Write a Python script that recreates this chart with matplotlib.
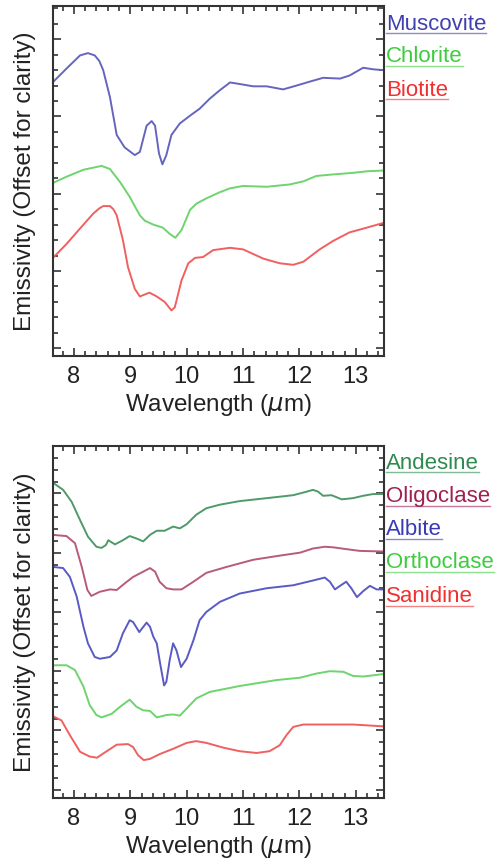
import numpy as np
import matplotlib
matplotlib.use('Agg')
import matplotlib.pyplot as plt
from matplotlib.lines import Line2D
from matplotlib.ticker import MultipleLocator

plt.rcParams['font.family'] = ['Liberation Sans', 'DejaVu Sans']
plt.rcParams['mathtext.fontset'] = 'dejavusans'

# ---- top panel: micas ----
musc_wl = [7.63, 7.87, 8.11, 8.25, 8.37, 8.45, 8.52, 8.64, 8.76, 8.90, 9.08, 9.17, 9.29, 9.38, 9.44, 9.51,
           9.57, 9.64, 9.73, 9.88, 10.06, 10.23, 10.41, 10.59, 10.77, 10.94, 11.18, 11.42, 11.71,
           11.95, 12.18, 12.42, 12.72, 12.89, 13.13, 13.31, 13.48]
musc_em = [3.445, 3.62, 3.79, 3.82, 3.79, 3.72, 3.60, 3.25, 2.76, 2.60, 2.50, 2.54, 2.88, 2.94, 2.88, 2.52,
           2.38, 2.50, 2.76, 2.91, 3.01, 3.10, 3.23, 3.34, 3.44, 3.42, 3.39, 3.39, 3.35,
           3.40, 3.45, 3.50, 3.49, 3.53, 3.63, 3.61, 3.60]

chl_wl = [7.63, 7.87, 8.17, 8.49, 8.64, 8.82, 8.99, 9.17, 9.26, 9.41, 9.58, 9.70, 9.80, 9.91, 10.06,
          10.17, 10.35, 10.59, 10.77, 11.00, 11.42, 11.83, 12.07, 12.30, 12.60, 12.95, 13.19, 13.48]
chl_em = [2.14, 2.22, 2.31, 2.36, 2.32, 2.15, 1.96, 1.72, 1.65, 1.60, 1.56, 1.48, 1.43, 1.53, 1.79,
          1.87, 1.94, 2.02, 2.07, 2.10, 2.09, 2.12, 2.16, 2.23, 2.25, 2.27, 2.29, 2.30]

bio_wl = [7.63, 7.87, 8.11, 8.34, 8.45, 8.52, 8.64, 8.70, 8.76, 8.87, 8.96, 9.08, 9.17, 9.34, 9.47, 9.61, 9.73,
          9.79, 9.91, 10.03, 10.15, 10.29, 10.47, 10.77, 11.00, 11.36, 11.65, 11.89, 12.07, 12.36,
          12.60, 12.89, 13.19, 13.48]
bio_em = [1.17, 1.35, 1.55, 1.74, 1.81, 1.84, 1.84, 1.80, 1.72, 1.40, 1.05, 0.77, 0.67, 0.72, 0.67, 0.60, 0.49,
          0.53, 0.88, 1.10, 1.17, 1.18, 1.27, 1.30, 1.28, 1.16, 1.10, 1.08, 1.12, 1.28,
          1.39, 1.50, 1.56, 1.62]

# ---- bottom panel: feldspars ----
and_wl = [7.66, 7.81, 7.96, 8.11, 8.25, 8.40, 8.49, 8.57, 8.61, 8.73, 8.87, 8.99, 9.11, 9.23, 9.35,
          9.47, 9.61, 9.76, 9.88, 10.00, 10.17, 10.35, 10.59, 10.94, 11.42, 11.89, 12.13, 12.24,
          12.33, 12.42, 12.57, 12.75, 12.95, 13.13, 13.31, 13.48]
and_em = [5.16, 5.06, 4.86, 4.55, 4.27, 4.10, 4.08, 4.13, 4.21, 4.14, 4.21, 4.28, 4.24, 4.19, 4.30,
          4.37, 4.37, 4.44, 4.41, 4.48, 4.64, 4.75, 4.81, 4.87, 4.92, 4.97, 5.03, 5.06,
          5.03, 4.96, 4.97, 4.90, 4.92, 4.96, 4.99, 4.99]

oli_wl = [7.63, 7.87, 8.02, 8.14, 8.24, 8.31, 8.46, 8.64, 8.76, 8.90, 9.05, 9.23, 9.35, 9.44, 9.52,
          9.64, 9.76, 9.91, 10.12, 10.35, 10.71, 11.18, 11.65, 12.01, 12.24, 12.45, 12.60, 12.83,
          13.07, 13.48]
oli_em = [4.30, 4.28, 4.16, 3.76, 3.37, 3.27, 3.34, 3.38, 3.37, 3.48, 3.59, 3.68, 3.74, 3.68, 3.51,
          3.40, 3.38, 3.38, 3.51, 3.66, 3.76, 3.88, 3.95, 4.00, 4.07, 4.10, 4.09, 4.06,
          4.03, 4.02]

alb_wl = [7.63, 7.81, 7.93, 8.05, 8.17, 8.25, 8.37, 8.46, 8.64, 8.76, 8.87, 8.99, 9.05, 9.16, 9.29,
          9.35, 9.41, 9.47, 9.53, 9.60, 9.64, 9.70, 9.76, 9.82, 9.90, 10.00, 10.12, 10.23, 10.35,
          10.59, 10.94, 11.42, 11.89, 12.24, 12.45, 12.54, 12.63, 12.72, 12.83, 12.92, 13.02,
          13.13, 13.25, 13.37, 13.48]
alb_em = [3.76, 3.74, 3.59, 3.26, 2.75, 2.47, 2.24, 2.21, 2.24, 2.35, 2.64, 2.86, 2.83, 2.66, 2.82,
          2.75, 2.58, 2.47, 2.13, 1.76, 1.82, 2.19, 2.47, 2.35, 2.07, 2.21, 2.52, 2.86, 3.00,
          3.17, 3.31, 3.40, 3.45, 3.53, 3.58, 3.51, 3.38, 3.44, 3.51, 3.40, 3.25,
          3.35, 3.44, 3.38, 3.38]

ort_wl = [7.63, 7.87, 8.02, 8.17, 8.28, 8.40, 8.49, 8.67, 8.82, 8.99, 9.11, 9.23, 9.35, 9.47, 9.64,
          9.76, 9.88, 10.00, 10.17, 10.41, 10.94, 11.59, 12.01, 12.30, 12.54, 12.78, 12.95, 13.13,
          13.48]
ort_em = [2.10, 2.10, 2.02, 1.74, 1.43, 1.26, 1.22, 1.28, 1.40, 1.52, 1.40, 1.34, 1.33, 1.22, 1.26,
          1.27, 1.25, 1.37, 1.54, 1.65, 1.75, 1.85, 1.89, 1.96, 2.00, 1.99, 1.92, 1.91,
          1.95]

san_wl = [7.63, 7.78, 7.93, 8.11, 8.28, 8.41, 8.52, 8.76, 8.96, 9.05, 9.14, 9.24, 9.35, 9.52, 9.76,
          10.00, 10.17, 10.35, 10.65, 10.94, 11.24, 11.47, 11.65, 11.77, 11.89, 12.07, 12.60,
          12.95, 13.48]
san_em = [1.24, 1.17, 0.92, 0.64, 0.56, 0.54, 0.61, 0.76, 0.77, 0.72, 0.58, 0.50, 0.52, 0.60, 0.69,
          0.79, 0.82, 0.79, 0.71, 0.65, 0.62, 0.65, 0.75, 0.92, 1.06, 1.10, 1.10,
          1.10, 1.07]

top_names = ['Muscovite', 'Chlorite', 'Biotite']
top_data = [(musc_wl, musc_em), (chl_wl, chl_em), (bio_wl, bio_em)]
top_line_colors = ['#6565c0', '#6ed46e', '#f06060']
top_text_colors = ['#4040b0', '#3ecc3e', '#f03030']

bot_names = ['Andesine', 'Oligoclase', 'Albite', 'Orthoclase', 'Sanidine']
bot_data = [(and_wl, and_em), (oli_wl, oli_em), (alb_wl, alb_em), (ort_wl, ort_em), (san_wl, san_em)]
bot_line_colors = ['#4e9a6a', '#b85a7c', '#5a5ac4', '#6ed46e', '#f06060']
bot_text_colors = ['#2e8a50', '#a02050', '#3838b8', '#3ecc3e', '#f03030']

fig = plt.figure(figsize=(4.98, 8.63), dpi=100)
ax1 = fig.add_axes([0.1064, 0.5875, 0.6647, 0.4056])
ax2 = fig.add_axes([0.1064, 0.0753, 0.6647, 0.4079])


def style_axes(ax, ylim):
    ax.set_xlim(7.63, 13.5)
    ax.set_ylim(*ylim)
    ax.xaxis.set_major_locator(MultipleLocator(1))
    ax.xaxis.set_minor_locator(MultipleLocator(0.2))
    ax.yaxis.set_major_locator(MultipleLocator(1))
    ax.yaxis.set_minor_locator(MultipleLocator(0.2))
    ax.tick_params(which='both', direction='in', top=True, right=True, color='#333333', width=1.2)
    ax.tick_params(which='major', length=6, labelsize=17, pad=7)
    ax.tick_params(which='minor', length=3.5)
    ax.set_yticklabels([])
    for s in ax.spines.values():
        s.set_linewidth(1.5)
        s.set_color('#333333')
    ax.set_xlabel('Wavelength ($\\mu$m)', fontsize=17.5, labelpad=3, color='#222222')
    ax.set_ylabel('Emissivity (Offset for clarity)', fontsize=17.5, labelpad=5, color='#222222')


style_axes(ax1, (-0.1, 4.43))
style_axes(ax2, (-0.14, 5.80))
for ax in (ax1, ax2):
    for lbl in ax.get_xticklabels():
        lbl.set_color('#222222')

for (wl, em), c in zip(top_data, top_line_colors):
    ax1.plot(wl, em, color=c, linewidth=1.4, solid_joinstyle='round')
for (wl, em), c in zip(bot_data, bot_line_colors):
    ax2.plot(wl, em, color=c, linewidth=1.4, solid_joinstyle='round')

# labels in the right margin, underlined like links
texts = []
for i, (name, c) in enumerate(zip(top_names, top_text_colors)):
    y = 1 - (24 + 33 * i) / 863
    texts.append(fig.text(0.775, y, name, color=c, fontsize=16, va='center', ha='left'))
for i, (name, c) in enumerate(zip(bot_names, bot_text_colors)):
    y = 1 - (463 + 33.3 * i) / 863
    texts.append(fig.text(0.775, y, name, color=c, fontsize=16, va='center', ha='left'))

fig.canvas.draw()
r = fig.canvas.get_renderer()
W, H = fig.get_size_inches() * fig.dpi
for t in texts:
    bb = t.get_window_extent(r)
    yl = (bb.y0 + 1) / H
    fig.add_artist(Line2D([bb.x0 / W, bb.x1 / W], [yl, yl], color=t.get_color(),
                          linewidth=1.0, alpha=0.6, transform=fig.transFigure))

fig.savefig('out.png', dpi=100)
